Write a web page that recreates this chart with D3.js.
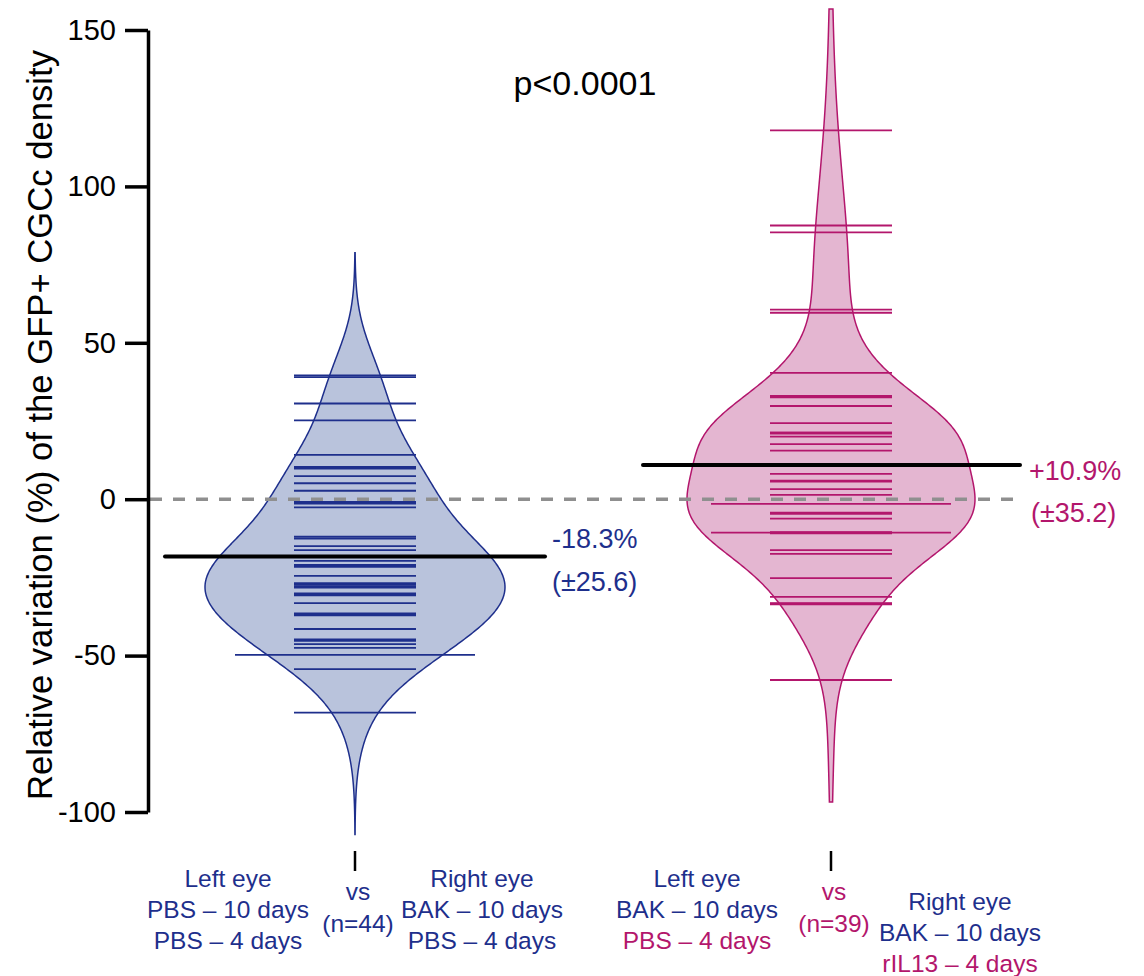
<!DOCTYPE html>
<html>
<head>
<meta charset="utf-8">
<script src="https://cdn.jsdelivr.net/npm/d3@7"></script>
<style>
  body { margin: 0; background: #fff; }
  svg { display: block; font-family: "Liberation Sans", Arial, sans-serif; }
</style>
</head>
<body>
<svg id="chart" width="1144" height="976"></svg>
<script>
// ---- data ----
const groups = ["PBS", "BAK"];
const groupN = [44, 39];
const groupMean = [-18.3, 10.9];
const groupSD = [25.6, 35.2];

// individual eyes (short marks)
const pbsValues = [
  39.0, 39.6, 30.6, 25.2, 14.2, 9.8, 10.3, 7.4, 5.1, 2.7, -0.9, -1.4, -2.6,
  -12.0, -12.6, -15.0, -16.3, -18.5, -19.7, -21.0, -21.6, -24.5, -26.8, -27.3,
  -27.9, -28.3, -30.1, -30.7, -33.2, -36.5, -37.1, -41.5, -44.8, -45.3, -46.3,
  -47.5, -54.3, -68.2, -27.3, -30.4, -36.8, -45.0, -21.3
];
const bakValues = [
  117.9, 87.5, 85.3, 60.6, 59.6, 40.4, 33.0, 32.6, 29.8, 24.3, 21.3, 21.0,
  20.0, 17.6, 15.5, 11.0, 8.1, 5.6, 5.9, 3.2, 1.4, -4.3, -4.7, -6.2, -10.5,
  -10.9, -16.3, -17.5, -25.2, -31.2, -33.2, -33.6, -57.8, 33.0, 21.3, -33.4,
  -10.7
];
// marks drawn wider in the figure
const pbsWide = [-49.8];
const bakWide = [-1.5, -10.7];

const yTicks = [150, 100, 50, 0, -50, -100];
const pText = "p<0.0001";
const yTitle = "Relative variation (%) of the GFP+ CGCc density";

const leftLabels = [
  ["Left eye", "PBS – 10 days", "PBS – 4 days"],
  ["Left eye", "BAK – 10 days", "PBS – 4 days"]
];
const rightLabels = [
  ["Right eye", "BAK – 10 days", "PBS – 4 days"],
  ["Right eye", "BAK – 10 days", "rIL13 – 4 days"]
];

// ---- setup ----
const navy = "#1e2f8c";
const magenta = "#b3166c";
const fills = ["#b9c3dc", "#e4b6d1"];
const strokes = [navy, magenta];

const svg = d3.select("#chart");
const y = d3.scaleLinear().domain([-100, 150]).range([812, 30]);
const x = d3.scalePoint().domain(groups).range([355, 831]);

const allValues = [pbsValues.concat(pbsWide), bakValues.concat(bakWide)];
const shortVals = [pbsValues, bakValues];
const wideVals = [pbsWide, bakWide];

const gauss = (u) => Math.exp(-0.5 * u * u);

// gaussian kernel density with optional adaptive (Abramson) bandwidths;
// tails run a fixed distance past the data
function kde(values, bw, adapt, ext) {
  let hs = values.map(() => bw);
  if (adapt > 0) {
    const pilot = values.map(v => d3.mean(values, s => gauss((v - s) / bw)));
    const g = Math.exp(d3.mean(pilot, p => Math.log(p)));
    hs = pilot.map(p => bw * Math.pow(p / g, -adapt));
  }
  const lo = d3.min(values) - ext, hi = d3.max(values) + ext;
  return d3.range(lo, hi + 0.25, 0.5).map(v => {
    const d = d3.mean(values, (s, j) => gauss((v - s) / hs[j]) / hs[j]);
    return [v, d];
  });
}

const bandwidth = [13, 13];
const adaptive = [0, 0.5];
const tailExt = 39;
const maxHalf = [150, 144];

// violins
groups.forEach((g, i) => {
  const dens = kde(allValues[i], bandwidth[i], adaptive[i], tailExt);
  const w = d3.scaleLinear().domain([0, d3.max(dens, d => d[1])]).range([0, maxHalf[i]]);
  const area = d3.area()
    .y(d => y(d[0]))
    .x0(d => x(g) - w(d[1]))
    .x1(d => x(g) + w(d[1]))
    .curve(d3.curveBasis);
  svg.append("path")
    .datum(dens)
    .attr("d", area)
    .attr("fill", fills[i])
    .attr("stroke", strokes[i])
    .attr("stroke-width", 1.5);
});

// individual marks
groups.forEach((g, i) => {
  svg.append("g").selectAll("line")
    .data(shortVals[i])
    .join("line")
    .attr("x1", x(g) - 61).attr("x2", x(g) + 61)
    .attr("y1", d => y(d)).attr("y2", d => y(d))
    .attr("stroke", strokes[i])
    .attr("stroke-width", 1.8);
  svg.append("g").selectAll("line")
    .data(wideVals[i])
    .join("line")
    .attr("x1", x(g) - 120).attr("x2", x(g) + 120)
    .attr("y1", d => y(d)).attr("y2", d => y(d))
    .attr("stroke", strokes[i])
    .attr("stroke-width", 1.8);
});

// zero reference
svg.append("line")
  .attr("x1", 150).attr("x2", 1022)
  .attr("y1", y(0)).attr("y2", y(0))
  .attr("stroke", "#8f8f8f")
  .attr("stroke-width", 3.5)
  .attr("stroke-dasharray", "12,11");

// mean lines + labels
const meanSpan = [[165, 545], [643, 1020]];
groups.forEach((g, i) => {
  svg.append("line")
    .attr("x1", meanSpan[i][0]).attr("x2", meanSpan[i][1])
    .attr("y1", y(groupMean[i])).attr("y2", y(groupMean[i]))
    .attr("stroke", "#000")
    .attr("stroke-width", 4)
    .attr("stroke-linecap", "round");
});
const fmtMean = d => (d > 0 ? "+" : "") + d.toFixed(1) + "%";
const note = svg.append("g").attr("font-size", 27);
note.append("text").attr("x", 552).attr("y", 548)
  .attr("fill", navy).text(fmtMean(groupMean[0]));
note.append("text").attr("x", 552).attr("y", 591)
  .attr("fill", navy).text("(±" + groupSD[0].toFixed(1) + ")");
note.append("text").attr("x", 1029).attr("y", 480)
  .attr("fill", magenta).text(fmtMean(groupMean[1]));
note.append("text").attr("x", 1031).attr("y", 522)
  .attr("fill", magenta).text("(±" + groupSD[1].toFixed(1) + ")");

// y axis
const yAxis = d3.axisLeft(y).tickValues(yTicks).tickSize(23).tickPadding(9)
  .tickSizeOuter(0).tickFormat(d => String(d));
const ax = svg.append("g").attr("transform", "translate(148,0)").call(yAxis);
ax.select(".domain").attr("stroke", "#000").attr("stroke-width", 3.5);
ax.selectAll(".tick line").attr("stroke", "#000").attr("stroke-width", 3.5);
ax.selectAll(".tick text").attr("font-size", 29).attr("fill", "#000")
  .attr("font-family", "'Liberation Sans', Arial, sans-serif");

svg.append("text")
  .attr("transform", "translate(52,425) rotate(-90)")
  .attr("text-anchor", "middle")
  .attr("font-size", 35)
  .attr("textLength", 750)
  .attr("lengthAdjust", "spacingAndGlyphs")
  .attr("fill", "#000")
  .text(yTitle);

// p value
svg.append("text").attr("x", 585).attr("y", 95)
  .attr("text-anchor", "middle").attr("font-size", 34).attr("fill", "#000")
  .text(pText);

// x ticks
groups.forEach(g => {
  svg.append("line")
    .attr("x1", x(g)).attr("x2", x(g))
    .attr("y1", 851).attr("y2", 871)
    .attr("stroke", "#000").attr("stroke-width", 2.5);
});

// bottom labels
const lab = svg.append("g").attr("font-size", 24.5).attr("text-anchor", "middle");
const lineGap = 31;
const leftCx = [228, 697], rightCx = [482, 960], rightTop = [887, 910];
groups.forEach((g, i) => {
  leftLabels[i].forEach((t, k) => {
    lab.append("text").attr("x", leftCx[i]).attr("y", 887 + k * lineGap)
      .attr("fill", i === 1 && k === 2 ? magenta : navy).text(t);
  });
  rightLabels[i].forEach((t, k) => {
    lab.append("text").attr("x", rightCx[i]).attr("y", rightTop[i] + k * lineGap)
      .attr("fill", i === 1 && k === 2 ? magenta : navy).text(t);
  });
  lab.append("text").attr("x", x(g) + 3).attr("y", 900)
    .attr("fill", strokes[i]).text("vs");
  lab.append("text").attr("x", x(g) + 3).attr("y", 932)
    .attr("fill", strokes[i]).text("(n=" + groupN[i] + ")");
});
</script>
</body>
</html>
